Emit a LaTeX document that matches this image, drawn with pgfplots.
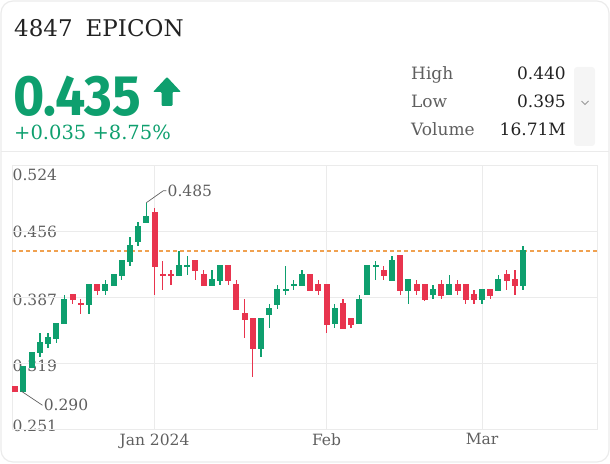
\documentclass[border=0pt]{standalone}
\usepackage{fontspec}
\usepackage{pgfplots}
\usepackage{pgfplotstable}
\pgfplotsset{compat=1.18}
\setmainfont{DejaVu Serif}
\newfontfamily\bigfont[FakeStretch=0.94]{Fira Sans}

\definecolor{upc}{HTML}{0E9F6E}
\definecolor{dnc}{HTML}{E8344E}
\definecolor{gridc}{HTML}{EBEBEB}
\definecolor{txtgray}{HTML}{5F5F5F}
\definecolor{txtdark}{HTML}{222222}
\definecolor{orangec}{HTML}{F0A150}

% i = trading day index, o h l c
\pgfplotstableread{
i o h l c
1 0.290 0.315 0.290 0.315
2 0.315 0.330 0.315 0.330
3 0.330 0.350 0.325 0.340
4 0.340 0.350 0.335 0.345
5 0.345 0.360 0.340 0.360
6 0.360 0.390 0.360 0.385
9 0.380 0.400 0.370 0.400
11 0.395 0.405 0.390 0.400
12 0.400 0.410 0.400 0.410
13 0.410 0.425 0.405 0.425
14 0.425 0.450 0.420 0.440
15 0.445 0.465 0.440 0.460
16 0.465 0.485 0.465 0.470
20 0.410 0.435 0.410 0.420
21 0.420 0.430 0.410 0.420
24 0.400 0.415 0.400 0.405
25 0.405 0.420 0.400 0.420
30 0.335 0.365 0.325 0.365
31 0.370 0.380 0.355 0.375
32 0.380 0.400 0.375 0.395
33 0.395 0.420 0.390 0.395
34 0.400 0.405 0.395 0.400
35 0.400 0.415 0.400 0.410
39 0.360 0.380 0.355 0.375
42 0.360 0.390 0.360 0.385
43 0.390 0.420 0.390 0.420
44 0.420 0.425 0.405 0.420
46 0.405 0.430 0.405 0.425
48 0.395 0.405 0.380 0.405
51 0.390 0.400 0.385 0.395
53 0.390 0.410 0.390 0.400
57 0.385 0.395 0.380 0.395
59 0.395 0.410 0.395 0.405
62 0.400 0.440 0.395 0.435
}\up

\pgfplotstableread{
i o h l c
0 0.295 0.295 0.290 0.290
7 0.390 0.390 0.380 0.385
8 0.380 0.385 0.370 0.380
10 0.400 0.400 0.390 0.395
17 0.475 0.480 0.390 0.420
18 0.410 0.425 0.395 0.410
19 0.410 0.415 0.400 0.410
22 0.425 0.425 0.405 0.415
23 0.410 0.415 0.400 0.400
26 0.420 0.420 0.400 0.405
27 0.400 0.405 0.375 0.375
28 0.370 0.385 0.345 0.365
29 0.365 0.365 0.305 0.335
36 0.410 0.410 0.395 0.395
37 0.400 0.405 0.390 0.395
38 0.400 0.400 0.350 0.360
40 0.380 0.385 0.355 0.355
41 0.365 0.365 0.355 0.360
45 0.415 0.420 0.405 0.410
47 0.430 0.430 0.390 0.395
49 0.400 0.405 0.390 0.395
50 0.400 0.400 0.383 0.385
52 0.400 0.405 0.385 0.390
54 0.400 0.405 0.390 0.395
55 0.400 0.400 0.380 0.385
56 0.390 0.395 0.380 0.385
58 0.395 0.395 0.385 0.390
60 0.410 0.415 0.395 0.405
61 0.405 0.415 0.390 0.400
}\down

\pgfplotsset{candle/.style={only marks, forget plot,
  mark options={draw opacity=0, fill opacity=0},
  error bars/.cd, y dir=both, y explicit, error mark=none}}

\begin{document}
\begin{tikzpicture}
\useasboundingbox (0,0) rectangle (610pt,463pt);

% card
\draw[gridc, line width=1.2pt, rounded corners=12pt] (1pt,1pt) rectangle (609pt,462pt);
\draw[gridc, line width=1pt] (1pt,311pt) -- (609pt,311pt);

% header
\node[anchor=base west, inner sep=0pt, text=txtdark] at (14pt,426pt)
  {\fontsize{23}{26}\selectfont 4847\hspace{13pt}EPICON};
\node[anchor=base west, inner sep=0pt, text depth=0pt, text=upc] at (13pt,347pt)
  {\bigfont\bfseries\fontsize{57}{58}\selectfont 0.435};
\fill[upc, rounded corners=1pt] (153pt,371pt) -- (167pt,386pt) -- (181pt,371pt) -- (172.5pt,371pt)
  -- (172.5pt,357pt) -- (161.5pt,357pt) -- (161.5pt,371pt) -- cycle;
\node[anchor=base west, inner sep=0pt, text=upc] at (14pt,323pt)
  {\fontsize{19.5}{21}\selectfont +0.035 +8.75\%};

\begin{scope}[every node/.style={inner sep=0pt, font=\fontsize{17}{19}\selectfont}]
\node[anchor=base west, text=txtgray] at (411pt,383pt) {High};
\node[anchor=base west, text=txtgray] at (411pt,355pt) {Low};
\node[anchor=base west, text=txtgray] at (411pt,327pt) {Volume};
\node[anchor=base east, text=txtdark] at (566pt,383pt) {0.440};
\node[anchor=base east, text=txtdark] at (566pt,355pt) {0.395};
\node[anchor=base east, text=txtdark] at (566pt,327pt) {16.71M};
\end{scope}
\fill[black!4, rounded corners=3pt] (574pt,317pt) rectangle (595pt,396pt);
\draw[black!40, line width=0.8pt] (581.5pt,362pt) -- (585pt,358.5pt) -- (588.5pt,362pt);

% y tick labels inside the plot
\begin{scope}[every node/.style={anchor=west, inner sep=0pt, text=txtgray, font=\fontsize{15.5}{18}\selectfont}]
\node at (12.5pt,288pt) {0.524};
\node at (12.5pt,231.5pt) {0.456};
\node at (12.5pt,163pt) {0.387};
\node at (12.5pt,97pt) {0.319};
\node at (12.5pt,37.5pt) {0.251};
\end{scope}

\begin{axis}[
    at={(12pt,34pt)}, anchor=south west,
    scale only axis,
    width=585pt, height=264pt,
    xmin=-0.403, xmax=71.03,
    ymin=0.251, ymax=0.524,
    xtick={17,38,57},
    xticklabels={Jan 2024,Feb,Mar},
    ytick={0.251,0.31925,0.3875,0.45575,0.524},
    yticklabels={},
    major tick length=0pt,
    grid=major,
    grid style={gridc, line width=0.8pt},
    axis line style={gridc, line width=0.8pt},
    xticklabel style={text=txtgray, font=\fontsize{15.5}{18}\selectfont, yshift=-1pt},
]
\addplot[orangec, line width=1.2pt, dash pattern=on 4pt off 3pt] coordinates {(-0.403,0.435) (71.03,0.435)};

% wicks
\addplot[candle, error bar style={line width=1.3pt, color=upc}]
  table[x=i, y=c, y error plus expr=\thisrow{h}-\thisrow{c}, y error minus expr=\thisrow{c}-\thisrow{l}] {\up};
\addplot[candle, error bar style={line width=1.3pt, color=dnc}]
  table[x=i, y=c, y error plus expr=\thisrow{h}-\thisrow{c}, y error minus expr=\thisrow{c}-\thisrow{l}] {\down};
% bodies
\addplot[candle, error bar style={line width=6pt, line cap=butt, color=upc}]
  table[x=i, y=c, y error plus expr=0.0008, y error minus expr=\thisrow{c}-\thisrow{o}+0.0008] {\up};
\addplot[candle, error bar style={line width=6pt, line cap=butt, color=dnc}]
  table[x=i, y=c, y error plus expr=\thisrow{o}-\thisrow{c}+0.0008, y error minus expr=0.0008] {\down};

% annotations
\draw[txtgray, line width=0.7pt] (axis cs:16,0.485) -- ++(17pt,12pt) -- ++(3pt,0pt)
  node[anchor=west, inner sep=1pt, font=\fontsize{15.5}{18}\selectfont] {0.485};
\draw[txtgray, line width=0.7pt] (axis cs:0.75,0.290) -- ++(21pt,-14pt)
  node[anchor=west, inner sep=1pt, font=\fontsize{15.5}{18}\selectfont] {0.290};
\end{axis}
\end{tikzpicture}
\end{document}
